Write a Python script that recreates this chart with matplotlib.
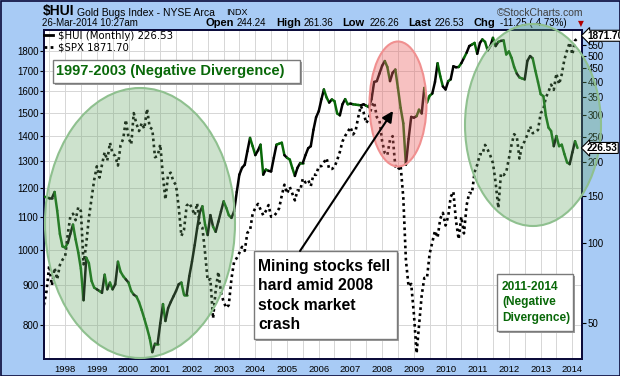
import numpy as np
import pandas as pd
import matplotlib
matplotlib.use("Agg")
import matplotlib.pyplot as plt
import matplotlib.dates as mdates
import matplotlib.transforms as mtrans
from matplotlib.collections import LineCollection
from matplotlib.lines import Line2D
from matplotlib.patches import Ellipse, Rectangle
from matplotlib.ticker import FixedLocator, NullLocator

# monthly closes, May 1997 .. Mar 2014
months = pd.date_range("1997-05-01", "2014-03-01", freq="MS")

spx = [848, 885, 954, 899, 947, 915, 955, 970,
       980, 1049, 1102, 1112, 1091, 1134, 1121, 957, 1017, 1099, 1164, 1229,
       1280, 1238, 1286, 1335, 1302, 1373, 1329, 1320, 1283, 1363, 1389, 1469,
       1394, 1366, 1499, 1452, 1421, 1455, 1431, 1518, 1437, 1429, 1315, 1320,
       1366, 1240, 1160, 1249, 1256, 1224, 1211, 1134, 1041, 1060, 1139, 1148,
       1130, 1107, 1147, 1077, 1067, 990, 912, 916, 815, 886, 936, 880,
       856, 841, 848, 917, 964, 975, 990, 1008, 996, 1051, 1058, 1112,
       1131, 1145, 1126, 1107, 1121, 1141, 1102, 1104, 1115, 1130, 1174, 1212,
       1181, 1204, 1181, 1157, 1192, 1191, 1234, 1220, 1229, 1207, 1249, 1248,
       1280, 1281, 1295, 1311, 1270, 1270, 1277, 1304, 1336, 1378, 1401, 1418,
       1438, 1407, 1421, 1482, 1531, 1503, 1455, 1474, 1527, 1549, 1481, 1468,
       1379, 1331, 1323, 1386, 1400, 1280, 1267, 1283, 1166, 969, 896, 903,
       826, 735, 798, 873, 919, 919, 987, 1021, 1057, 1036, 1096, 1115,
       1074, 1104, 1169, 1187, 1089, 1031, 1102, 1049, 1141, 1183, 1181, 1258,
       1286, 1327, 1326, 1364, 1345, 1321, 1292, 1219, 1131, 1253, 1247, 1258,
       1312, 1366, 1408, 1398, 1310, 1362, 1379, 1407, 1441, 1412, 1416, 1426,
       1498, 1515, 1569, 1598, 1631, 1606, 1686, 1633, 1682, 1757, 1806, 1848,
       1783, 1859, 1871.70]

hui = [149, 148, 147, 147, 155, 132, 108, 97, 96, 100, 108, 117, 103, 92, 80, 61,
       88, 84, 72, 68, 67, 66, 65, 76, 67, 71, 67, 70, 85, 78, 75, 73, 71, 66, 64, 63,
       60, 56, 52, 48, 44, 39, 42, 42, 50, 59, 51, 57, 60, 63, 66, 70,
       71, 64, 64, 75, 85, 98, 113, 130, 137, 117, 107, 127, 115, 110, 120, 131,
       143, 135, 127, 124, 131, 155, 180, 191, 196, 220, 247, 230, 213, 222, 233, 180,
       188, 186, 185, 208, 233, 235, 237, 213, 208, 205, 191, 178, 191, 199, 199, 213, 226,
       230, 265, 295, 311, 345, 375, 350, 335, 344, 339, 305, 300, 330, 345, 330, 332,
       330, 329, 328, 327, 330, 326, 322, 345, 400, 403, 430, 460, 479, 455, 403, 433,
       445, 380, 320, 280, 196, 245, 296, 294, 298, 315, 305, 380, 335, 355, 362, 400,
       470, 420, 385, 375,
       403, 409, 458, 454, 455, 470, 492, 515, 545, 552, 560, 510, 560, 577, 565, 525,
       545, 585, 545, 565, 570, 572, 507, 520, 492, 455, 430, 416, 412, 409, 480, 500,
       490, 440, 400, 360, 354, 300, 270, 262, 230, 251, 230, 233, 215, 200, 197, 218,
       240, 226.53]

spx_ticks = [800, 900, 1000, 1100, 1200, 1300, 1400, 1500, 1600, 1700, 1800]
hui_ticks = [50, 100, 150, 200, 250, 300, 350, 400, 450, 500, 550]

BLUE = "#A8CBF5"
NAVY = "#0A0A3A"
GREEN = "#086808"
W, H = 620, 376


def fx(px):
    return px / W


def fy(py):
    return 1 - py / H


fig = plt.figure(figsize=(6.2, 3.76), dpi=100, facecolor=BLUE)
ax = fig.add_axes([fx(44), fy(359), (582 - 44) / W, (359 - 29.5) / H])
ax.set_facecolor("white")

# S&P 500 overlay, left axis
ax.plot(months, spx, color="black", lw=1.9, ls=(0, (1, 1.3)), zorder=3)
ax.set_yscale("log")
ax.set_ylim(722.6, 1921)
ax.yaxis.set_major_locator(FixedLocator(spx_ticks))
ax.yaxis.set_minor_locator(NullLocator())
ax.set_yticklabels([str(t) for t in spx_ticks])
ax.set_xlim(pd.Timestamp("1997-05-02"), pd.Timestamp("2014-04-22"))
ax.xaxis.set_major_locator(mdates.YearLocator())
ax.xaxis.set_major_formatter(mdates.DateFormatter("%Y"))
ax.xaxis.set_minor_locator(mdates.MonthLocator(bymonth=[7]))
ax.grid(which="both", axis="x", color="#d6d6d6", lw=0.7)
ax.grid(which="major", axis="y", color="#d6d6d6", lw=0.7)
ax.set_axisbelow(True)
ax.tick_params(axis="x", which="both", length=0, labelsize=6.8, pad=4)
ax.tick_params(axis="y", length=3, direction="out", labelsize=7, pad=1,
               color="black")
for lab in ax.get_xticklabels() + ax.get_yticklabels():
    lab.set_family("Liberation Sans")

# Gold bugs index, right axis, black when gaining on the S&P, green otherwise
ax2 = ax.twinx()
ax2.set_yscale("log")
x = mdates.date2num(months)
pts = np.column_stack([x, hui])
segs = np.stack([pts[:-1], pts[1:]], axis=1)
ratio = np.array(hui) / np.array(spx)
cols = np.where(np.diff(ratio) > 0, "black", GREEN)
lc = LineCollection(segs, colors=cols, linewidths=1.8, capstyle="round",
                    joinstyle="round", zorder=4)
ax2.add_collection(lc)
ax2.set_ylim(36.76, 628.6)
ax2.set_xlim(pd.Timestamp("1997-05-02"), pd.Timestamp("2014-04-22"))
ax2.yaxis.set_major_locator(FixedLocator(hui_ticks))
ax2.yaxis.set_minor_locator(NullLocator())
ax2.set_yticklabels([str(t) for t in hui_ticks])
ax2.tick_params(axis="y", length=3, direction="out", labelsize=7, pad=1)
for lab in ax2.get_yticklabels():
    lab.set_family("Liberation Sans")

for a in (ax, ax2):
    for s in a.spines.values():
        s.set_color(NAVY)
        s.set_linewidth(1.3)

leg = ax2.legend(handles=[Line2D([], [], color="black", lw=2),
                          Line2D([], [], color="black", lw=2, ls=(0, (1, 1.2)))],
                 labels=["$HUI (Monthly) 226.53", "$SPX 1871.70"],
                 loc="upper left", bbox_to_anchor=(fx(43), fy(30)),
                 bbox_transform=fig.transFigure, frameon=False, fontsize=7.3,
                 handlelength=0.9, handletextpad=0.5, labelspacing=0.15,
                 borderaxespad=0, borderpad=0.1)

# overlay in pixel coordinates for the hand-drawn notes
ov = fig.add_axes([0, 0, 1, 1], zorder=5)
ov.set_xlim(0, W)
ov.set_ylim(H, 0)
ov.axis("off")

for (cx, cy, w, h, fc, ec, al) in [(140, 223, 190, 270, "#6aa86a", "#8fc08f", 0.33),
                                   (533, 125, 136, 202, "#6aa86a", "#8fc08f", 0.33),
                                   (398, 104, 57, 125, "#eb6464", "#f09090", 0.4)]:
    ov.add_patch(Ellipse((cx, cy), w, h, fc=fc, alpha=al, ec="none", zorder=1))
    ov.add_patch(Ellipse((cx, cy), w, h, fc="none", ec=ec, lw=1.5, zorder=1))


def note(x0, y0, w, h):
    ov.add_patch(Rectangle((x0 + 2, y0 + 2), w, h, fc="#9c9c9c", ec="none",
                           zorder=3))
    ov.add_patch(Rectangle((x0, y0), w, h, fc="white", ec="#7a7a7a", lw=1,
                           zorder=3))


note(52.5, 59.5, 247, 23)
ov.text(56, 71.5, "1997-2003 (Negative Divergence)", ha="left", va="center",
        color=GREEN, fontsize=10.5, fontweight="bold", family="Liberation Sans",
        zorder=4)

note(254, 251, 143, 88)
ov.text(258, 295.5, "Mining stocks fell\nhard amid 2008\nstock market\ncrash",
        ha="left", va="center", color="black", fontsize=11.3, fontweight="bold",
        family="Liberation Sans", linespacing=1.38, zorder=4)

note(497, 273.5, 76, 57.5)
ov.text(502, 302.5, "2011-2014\n(Negative\nDivergence)", ha="left",
        va="center", color=GREEN, fontsize=8.6, fontweight="bold",
        family="Liberation Sans", linespacing=1.4, zorder=4)

ov.annotate("", xy=(393, 111), xytext=(300, 251),
            arrowprops=dict(arrowstyle="-|>", color="black", lw=1.5,
                            mutation_scale=16, shrinkA=0, shrinkB=0), zorder=4)

ov.add_patch(Rectangle((0.5, 0.5), W - 1, H - 1, fc="none", ec=NAVY, lw=1.2,
                       zorder=6))

# last-value tags on the right edge
tr_hui = mtrans.blended_transform_factory(fig.transFigure, ax2.transData)
tr_spx = mtrans.blended_transform_factory(fig.transFigure, ax.transData)
lift = mtrans.ScaledTranslation(0, 2.5 / 100, fig.dpi_scale_trans)
tag = dict(boxstyle="larrow,pad=0.05", fc="white", ec="black", lw=0.8)
fig.text(fx(587), hui[-1], "226.53", transform=tr_hui, ha="left", va="center",
         fontsize=7.2, fontweight="bold", family="Liberation Sans", bbox=tag,
         zorder=10)
fig.text(fx(587), spx[-1], "1871.70", transform=tr_spx + lift, ha="left",
         va="center", fontsize=7.2, fontweight="bold", family="Liberation Sans",
         bbox=tag, zorder=10)

# header
hdr = dict(family="Liberation Sans", va="center")
fig.text(fx(42.5), fy(11.5), "$HUI", fontsize=10, fontweight="bold", **hdr)
fig.text(fx(77), fy(12.5), "Gold Bugs Index - NYSE Arca", fontsize=7.5, **hdr)
fig.text(fx(226), fy(12.5), "INDX", fontsize=6.5, **hdr)
fig.text(fx(583), fy(12.5), "\u00a9StockCharts.com", fontsize=7.5,
         color="#404040", ha="right", family="Liberation Sans", va="center")
fig.text(fx(42.5), fy(23.5), "26-Mar-2014 10:27am", fontsize=7, **hdr)
quote = [(205.5, "Open", True), (237, "244.24", False),
         (276.7, "High", True), (303.6, "261.36", False),
         (342, "Low", True), (369.6, "226.26", False),
         (408, "Last", True), (434.8, "226.53", False),
         (474, "Chg", True), (500, "-11.25 (-4.73%)", False)]
for px, s, bold in quote:
    fig.text(fx(px), fy(23.5), s, fontsize=8 if bold else 7,
             fontweight="bold" if bold else "normal", **hdr)
fig.text(fx(578), fy(23.5), "\u25bc", fontsize=5.5, color="#b00000",
         family="DejaVu Sans", va="center")

fig.savefig("out.png", dpi=100, facecolor=BLUE)
